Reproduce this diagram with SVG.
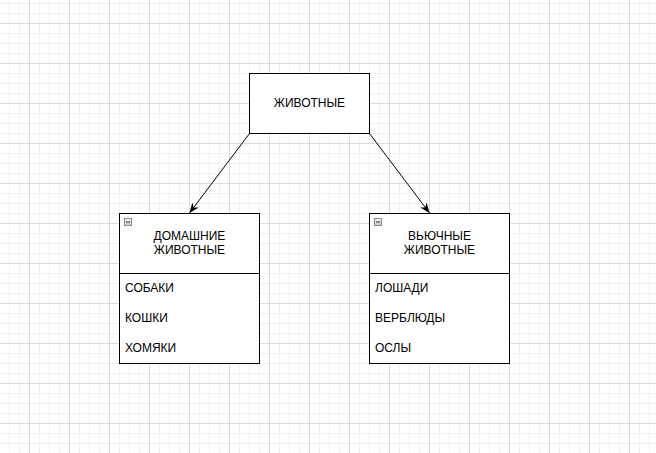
<svg xmlns="http://www.w3.org/2000/svg" width="656" height="453" viewBox="0 0 656 453">
  <defs>
    <pattern id="minor" patternUnits="userSpaceOnUse" x="9" y="3" width="10" height="10">
      <rect x="0" y="0" width="10" height="1" fill="#f1f1f1"/>
      <rect x="0" y="0" width="1" height="10" fill="#f1f1f1"/>
    </pattern>
    <pattern id="major" patternUnits="userSpaceOnUse" x="29" y="23" width="40" height="40">
      <rect x="0" y="0" width="40" height="1" fill="#dcdcdc"/>
      <rect x="0" y="0" width="1" height="40" fill="#dcdcdc"/>
    </pattern>
    <linearGradient id="btn" x1="0" y1="0" x2="0" y2="1">
      <stop offset="0" stop-color="#f4f4f4"/>
      <stop offset="1" stop-color="#c8c8c8"/>
    </linearGradient>
    <marker id="arrow" viewBox="0 0 10 8" refX="10" refY="4" markerWidth="10" markerHeight="8" markerUnits="userSpaceOnUse" orient="auto">
      <path d="M0,0 L10,4 L0,8 L3,4 Z" fill="#000"/>
    </marker>
    <style>
      text { font-family: "Liberation Sans", Arial, sans-serif; font-size: 12px; fill: #000; }
      .box { fill: #fff; stroke: #000; stroke-width: 1; }
      .sep { stroke: #000; stroke-width: 1; fill: none; }
      .edge { stroke: #000; stroke-width: 1; fill: none; marker-end: url(#arrow); }
      .mid { text-anchor: middle; }
      .icon { fill: url(#btn); stroke: #8a8a8a; stroke-width: 1; }
      .minus { stroke: #333; stroke-width: 1; }
    </style>
  </defs>

  <rect width="656" height="453" fill="#ffffff"/>
  <rect width="656" height="453" fill="url(#minor)"/>
  <rect width="656" height="453" fill="url(#major)"/>

  <g id="connectors">
    <path class="edge" d="M249.5,133.5 L189.5,213"/>
    <path class="edge" d="M369.5,133.5 L429.5,213"/>
  </g>

  <g id="animals">
    <rect class="box" x="249.5" y="73.5" width="120" height="60"/>
    <text class="mid" x="309.5" y="107">ЖИВОТНЫЕ</text>
  </g>

  <g id="domestic">
    <rect class="box" x="119.5" y="213.5" width="140" height="150"/>
    <line class="sep" x1="119.5" y1="273.5" x2="259.5" y2="273.5"/>
    <rect class="icon" x="124.5" y="218.5" width="7" height="7"/>
    <line class="minus" x1="126" y1="222" x2="130" y2="222"/>
    <text class="mid" x="189.5" y="240">ДОМАШНИЕ</text>
    <text class="mid" x="189.5" y="254">ЖИВОТНЫЕ</text>
    <text x="125" y="291.5">СОБАКИ</text>
    <text x="125" y="321.5">КОШКИ</text>
    <text x="125" y="351.5">ХОМЯКИ</text>
  </g>

  <g id="pack">
    <rect class="box" x="369.5" y="213.5" width="140" height="150"/>
    <line class="sep" x1="369.5" y1="273.5" x2="509.5" y2="273.5"/>
    <rect class="icon" x="374.5" y="218.5" width="7" height="7"/>
    <line class="minus" x1="376" y1="222" x2="380" y2="222"/>
    <text class="mid" x="439.5" y="240">ВЬЮЧНЫЕ</text>
    <text class="mid" x="439.5" y="254">ЖИВОТНЫЕ</text>
    <text x="375" y="291.5">ЛОШАДИ</text>
    <text x="375" y="321.5">ВЕРБЛЮДЫ</text>
    <text x="375" y="351.5">ОСЛЫ</text>
  </g>
</svg>
